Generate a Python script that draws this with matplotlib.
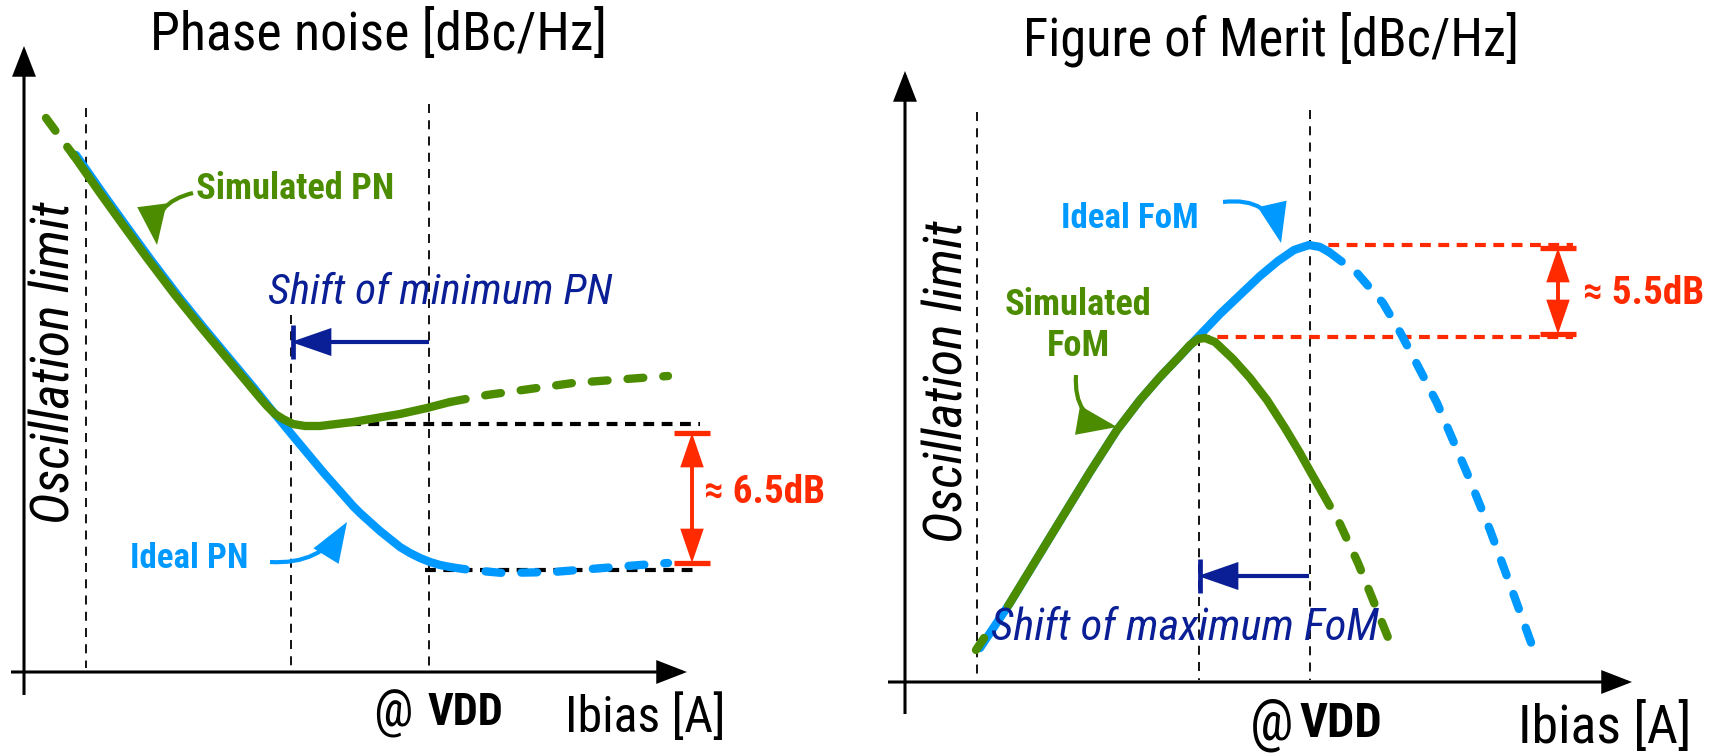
import matplotlib
matplotlib.use("Agg")
import matplotlib.pyplot as plt
import matplotlib.font_manager as fm
from matplotlib.font_manager import FontProperties
from matplotlib.patches import FancyArrowPatch

# ------------------------------------------------------------------ data
# (coordinates, pixel frame 1723 x 753, y downwards)
# Left panel : phase noise
pn_sim_head_x = [46, 74]
pn_sim_head_y = [118, 156]
pn_sim_x = [72, 100, 123, 147, 175, 200, 230, 250, 260, 267, 275, 283, 293, 305, 320,
            353, 400, 427, 450]
pn_sim_y = [153, 193, 225, 258, 295, 326, 362, 386, 398, 406, 414, 419, 424, 426, 426,
            422, 414, 408, 402]
pn_sim_tail_x = [450, 487, 537, 573, 613, 640, 668]
pn_sim_tail_y = [402, 395, 388, 383, 380, 378, 376]

pn_ideal_x = [76, 104, 127, 151, 179, 204, 234, 254, 270, 293, 323, 353, 360, 370, 380,
              390, 400, 410, 420, 430, 440, 450]
pn_ideal_y = [155, 195, 227, 260, 297, 328, 364, 388, 408, 436, 472, 506, 513, 522, 531,
              539, 547, 553, 558, 562, 565, 567]
pn_ideal_tail_x = [450, 470, 503, 553, 603, 640, 668]
pn_ideal_tail_y = [567, 570, 573, 572, 568, 565, 563]

pn_vlines_x = [86, 291, 429]
pn_vlines_top = [108, 315, 104]
pn_ref_levels = [424, 570]          # black dashed reference levels
pn_ref_start = [350, 425]
pn_delta_label = "≈ 6.5dB"

# Right panel : figure of merit
fom_sim_head_x = [976, 984]
fom_sim_head_y = [650, 638]
fom_sim_x = [1008, 1063, 1090, 1117, 1140, 1160, 1180, 1190, 1198, 1205, 1215, 1233,
             1250, 1267, 1285, 1300, 1310, 1322]
fom_sim_y = [606, 516, 472, 430, 400, 377, 356, 345, 339, 338, 342, 359,
             378, 400, 428, 453, 471, 492]
fom_sim_tail_x = [1322, 1340, 1358, 1375, 1393]
fom_sim_tail_y = [492, 524, 563, 605, 650]

fom_ideal_x = [980, 1010, 1063, 1090, 1117, 1140, 1160, 1180, 1199, 1220, 1241, 1260,
               1278, 1294, 1309, 1320, 1329]
fom_ideal_y = [648, 603, 516, 472, 430, 400, 377, 356, 336, 314, 294, 276,
               261, 250, 245, 247, 252]
fom_ideal_tail_x = [1329, 1357, 1383, 1400, 1420, 1437, 1467, 1490, 1512, 1533]
fom_ideal_tail_y = [252, 273, 303, 332, 370, 403, 473, 530, 590, 648]

fom_vlines_x = [977, 1199, 1310]
fom_vlines_top = [112, 337, 110]
fom_ref_levels = [245, 337]         # red dashed reference levels
fom_ref_start = [1310, 1199]
fom_delta_label = "≈ 5.5dB"

# ------------------------------------------------------------------ fonts
# The reference uses a condensed (Arial Narrow like) face; use one if present.
pref = [("Liberation Sans Narrow", 1.0), ("Arial Narrow", 1.0), ("Nimbus Sans Narrow", 1.0),
        ("Roboto Condensed", 0.97), ("Noto Sans Condensed", 0.93),
        ("Open Sans Condensed", 0.95), ("DejaVu Sans Condensed", 0.9)]
entries = fm.fontManager.ttflist
names = {f.name for f in entries}
FAMILY, STRETCH, SCALE = "Liberation Sans", "normal", 0.84
found = False
for nm, sc in pref:
    if nm in names:
        FAMILY, STRETCH, SCALE, found = nm, "normal", sc, True
        break
if not found:
    for base, sc in [("Liberation Sans", 1.0), ("Roboto", 0.97), ("Noto Sans", 0.93),
                     ("Open Sans", 0.95), ("DejaVu Sans", 0.9)]:
        ok = [f for f in entries if f.name == base and
              (str(f.stretch) in ("condensed", "semi-condensed", "extra-condensed")
               or "condensed" in f.fname.lower() or "narrow" in f.fname.lower())]
        if ok:
            FAMILY, STRETCH, SCALE, found = base, "condensed", sc, True
            break

# ------------------------------------------------------------------ style
GREEN = "#4c8c00"
BLUE = "#0099ff"
RED = "#ff2a00"
NAVY = "#0a1e96"

W, H = 1723, 753
fig = plt.figure(figsize=(W / 100, H / 100), dpi=100)
ax = fig.add_axes([0, 0, 1, 1])
ax.set_xlim(0, W)
ax.set_ylim(H, 0)
ax.axis("off")

LW = 6.0
DASH = (1.9, 2.4)


def curve(x, y, color, dashed=False, z=3):
    kw = dict(color=color, lw=LW, solid_capstyle="round", dash_capstyle="round",
              solid_joinstyle="round", dash_joinstyle="round", zorder=z)
    if dashed:
        ax.plot(x, y, linestyle=(0, DASH), **kw)
    else:
        ax.plot(x, y, **kw)


def arrow(p0, p1, color, lw, hl, hw, style="-|>", rad=0.0, z=5):
    a = FancyArrowPatch(p0, p1, arrowstyle=f"{style},head_length={hl},head_width={hw}",
                        connectionstyle=f"arc3,rad={rad}", color=color, lw=lw,
                        shrinkA=0, shrinkB=0, mutation_scale=1, zorder=z,
                        capstyle="butt", joinstyle="miter")
    ax.add_patch(a)


# ---------------- axes (both panels)
arrow((24, 695), (24, 46), "k", 2.2, 18, 7)
arrow((11, 672), (687, 672), "k", 2.2, 18, 7)
arrow((905, 714), (905, 71), "k", 2.2, 18, 7)
arrow((888, 682), (1632, 682), "k", 2.2, 18, 7)

# ---------------- vertical dashed guide lines
for x, top in zip(pn_vlines_x, pn_vlines_top):
    ax.plot([x, x], [top, 668], color="k", lw=1.3, linestyle=(0, (5, 4)), zorder=1)
for x, top in zip(fom_vlines_x, fom_vlines_top):
    ax.plot([x, x], [top, 680], color="k", lw=1.3, linestyle=(0, (5, 4)), zorder=1)

# ---------------- reference levels
for y, x0 in zip(pn_ref_levels, pn_ref_start):
    ax.plot([x0, 700], [y, y], color="k", lw=3.0, linestyle=(0, (2.6, 1.8)), zorder=2)
for y, x0 in zip(fom_ref_levels, fom_ref_start):
    ax.plot([x0, 1573], [y, y], color=RED, lw=3.0, linestyle=(0, (2.6, 1.8)), zorder=2)

# ---------------- curves, left panel
curve(pn_ideal_x, pn_ideal_y, BLUE, z=3)
curve(pn_ideal_tail_x, pn_ideal_tail_y, BLUE, dashed=True, z=3)
curve(pn_sim_head_x, pn_sim_head_y, GREEN, dashed=True, z=4)
curve(pn_sim_x, pn_sim_y, GREEN, z=4)
curve(pn_sim_tail_x, pn_sim_tail_y, GREEN, dashed=True, z=4)

# ---------------- curves, right panel
curve(fom_ideal_x, fom_ideal_y, BLUE, z=3)
curve(fom_ideal_tail_x, fom_ideal_tail_y, BLUE, dashed=True, z=3)
curve(fom_sim_head_x, fom_sim_head_y, GREEN, z=4)
curve(fom_sim_x, fom_sim_y, GREEN, z=4)
curve(fom_sim_tail_x, fom_sim_tail_y, GREEN, dashed=True, z=4)


# ---------------- delta arrows (red)
def delta(x, y0, y1, half):
    arrow((x, y0), (x, y1), RED, 2.8, 19, 6.5, style="<|-|>", z=6)
    for y in (y0, y1):
        ax.plot([x - half, x + half], [y, y], color=RED, lw=3.8, solid_capstyle="butt", zorder=6)


delta(692, 433, 563, 18)
delta(1558, 248, 334, 18)


# ---------------- shift arrows (navy)
def shift(x_from, x_to, y, bar_half):
    arrow((x_from, y), (x_to, y), NAVY, 3.0, 23, 8, z=6)
    ax.plot([x_to + 2, x_to + 2], [y - bar_half, y + bar_half], color=NAVY, lw=3.4,
            solid_capstyle="butt", zorder=6)


shift(429, 291, 342, 17)
shift(1309, 1198, 576, 17)

# ---------------- curved label arrows
arrow((193, 193), (157, 245), GREEN, 3.0, 23, 8.5, rad=0.45)
arrow((270, 562), (347, 522), BLUE, 3.0, 23, 8.5, rad=0.3)
arrow((1223, 202), (1281, 243), BLUE, 3.0, 23, 8.5, rad=-0.45)
arrow((1076, 375), (1117, 427), GREEN, 3.0, 23, 8.5, rad=0.45)


# ---------------- text
def txt(x, y, s, size, color="k", weight="normal", style="normal", ha="center",
        va="baseline", rot=0):
    fp = FontProperties(family=[FAMILY, "DejaVu Sans"], stretch=STRETCH, weight=weight,
                        style=style, size=size * SCALE)
    ax.text(x, y, s, fontproperties=fp, color=color, ha=ha, va=va, rotation=rot, zorder=7)


txt(379, 50, "Phase noise [dBc/Hz]", 40)
txt(1271, 55, "Figure of Merit [dBc/Hz]", 39)

txt(55, 363, "Oscillation limit", 40, style="italic", va="center", rot=90)
txt(948, 382, "Oscillation limit", 40, style="italic", va="center", rot=90)

txt(295, 199, "Simulated PN", 27, GREEN, "bold")
txt(189, 568, "Ideal PN", 26, BLUE, "bold")
txt(1130, 228, "Ideal FoM", 26, BLUE, "bold")
txt(1078, 315, "Simulated", 27, GREEN, "bold")
txt(1078, 356, "FoM", 27, GREEN, "bold")

txt(440, 304, "Shift of minimum PN", 32, NAVY, style="italic")
txt(1185, 640, "Shift of maximum FoM", 33, NAVY, style="italic")

txt(765, 503, pn_delta_label, 29, RED, "bold")
txt(1644, 304, fom_delta_label, 29, RED, "bold")

# "@ VDD" : large regular "@" followed by bold "VDD"
txt(393, 727, "@", 38)
txt(465, 725, "VDD", 33, weight="bold")
txt(1272, 740, "@", 42)
txt(1341, 737, "VDD", 36, weight="bold")

txt(645, 732, "Ibias [A]", 37)
txt(1605, 743, "Ibias [A]", 40)

fig.savefig("out.png", dpi=100, facecolor="white")
